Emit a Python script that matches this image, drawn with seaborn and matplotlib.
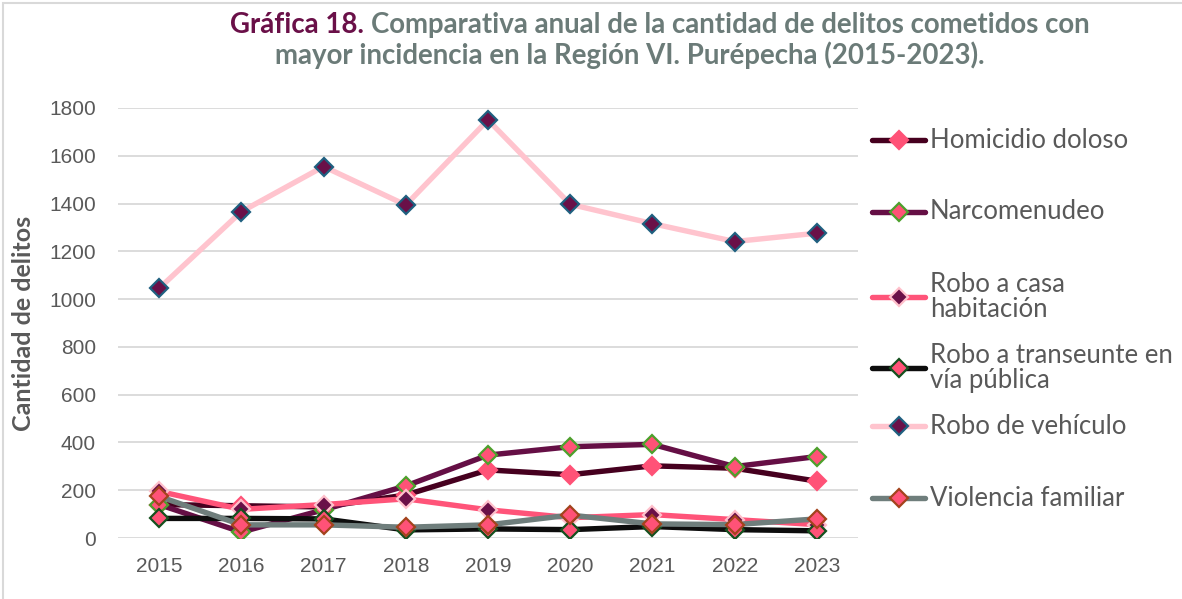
import matplotlib
matplotlib.use("Agg")
import matplotlib.pyplot as plt
from matplotlib.lines import Line2D
from matplotlib.patches import Rectangle
import seaborn as sns
import pandas as pd

years = ["2015", "2016", "2017", "2018", "2019", "2020", "2021", "2022", "2023"]
series_names = ["Homicidio doloso", "Narcomenudeo", "Robo a casa\nhabitación",
                "Robo a transeunte en\nvía pública", "Robo de vehículo", "Violencia familiar"]
homicidio = [140, 135, 130, 180, 285, 265, 302, 292, 238]
narcomenudeo = [140, 25, 118, 218, 347, 382, 392, 299, 341]
robo_casa = [195, 120, 140, 164, 118, 85, 98, 77, 56]
robo_transeunte = [82, 82, 80, 34, 38, 35, 48, 35, 30]
robo_vehiculo = [1045, 1366, 1555, 1394, 1750, 1397, 1316, 1241, 1276]
violencia = [174, 55, 55, 45, 55, 96, 59, 56, 80]
y_ticks = [0, 200, 400, 600, 800, 1000, 1200, 1400, 1600, 1800]

values = [homicidio, narcomenudeo, robo_casa, robo_transeunte, robo_vehiculo, violencia]

# line color, marker face, marker edge
styles = [
    ("#46001F", "#FF5277", "#FF5277"),
    ("#650F45", "#FF5277", "#4CA02C"),
    ("#FF5479", "#6A1048", "#FFC0CB"),
    ("#0D0D0D", "#FF5277", "#14501E"),
    ("#FFC4CE", "#6A1048", "#1F6080"),
    ("#6F7E7C", "#FF5277", "#A3431C"),
]

rows = []
for name, vals in zip(series_names, values):
    for i, v in enumerate(vals):
        rows.append({"serie": name, "x": i, "valor": v})
df = pd.DataFrame(rows)

sns.set_theme(style="white")
plt.rcParams["font.family"] = ["Liberation Sans", "DejaVu Sans"]

fig = plt.figure(figsize=(11.82, 5.99), dpi=100)
ax = fig.add_axes([118 / 1182, 1 - 538 / 599, (858 - 118) / 1182, (538 - 108) / 599])

for name, (lc, mf, me) in zip(series_names, styles):
    sub = df[df["serie"] == name]
    sns.lineplot(data=sub, x="x", y="valor", ax=ax, color=lc, linewidth=3.9,
                 marker="D", markersize=9, markerfacecolor=mf, markeredgecolor=me,
                 markeredgewidth=1.6, legend=False)

ax.set_xlim(-0.5, len(years) - 0.5)
ax.set_ylim(0, 1800)
ax.set_yticks(y_ticks)
ax.set_yticklabels([str(t) for t in y_ticks])
ax.set_xticks(range(len(years)))
ax.set_xticklabels(years)
ax.grid(axis="y", color="#D9D9D9", linewidth=1.3)
ax.set_axisbelow(True)
for s in ax.spines.values():
    s.set_visible(False)
ax.tick_params(axis="both", length=0, labelsize=15, colors="#595959")
ax.tick_params(axis="y", pad=16)
ax.tick_params(axis="x", pad=14)
ax.set_xlabel("")
ax.set_ylabel("Cantidad de delitos", fontsize=18, color="#595959", family=["Lato", "DejaVu Sans"],
              fontweight="bold", labelpad=10)

# Legend (manually placed entries)
leg_y = [140, 212, 297, 368, 426, 498]
for name, (lc, mf, me), yy in zip(series_names, styles, leg_y):
    yf = 1 - yy / 599
    fig.add_artist(Line2D([872 / 1182, 925 / 1182], [yf, yf], color=lc, linewidth=3.9,
                          solid_capstyle="round", transform=fig.transFigure))
    fig.add_artist(Line2D([898.5 / 1182], [yf], marker="D", markersize=9, markerfacecolor=mf,
                          markeredgecolor=me, markeredgewidth=1.6, linestyle="none",
                          transform=fig.transFigure))
    fig.text(930 / 1182, yf, name, fontsize=18.5, color="#595959", va="center", ha="left",
             family=["Lato", "DejaVu Sans"], linespacing=1.0)

# Title
title_font = ["Lato", "DejaVu Sans"]
fs_title = 19.9
fig.canvas.draw()
r = fig.canvas.get_renderer()
a = fig.text(0, 1 - 25 / 599, "Gráfica 18. ", fontsize=fs_title, fontweight="bold", color="#6A1048",
             family=title_font, va="center", ha="left")
b = fig.text(0, 1 - 25 / 599, "Comparativa anual de la cantidad de delitos cometidos con",
             fontsize=fs_title, fontweight="bold", color="#6B7B78", family=title_font, va="center", ha="left")
wa = a.get_window_extent(r).width
wb = b.get_window_extent(r).width
start = (660 - (wa + wb) / 2) / 1182
a.set_x(start)
b.set_x(start + wa / 1182)
fig.text(630 / 1182, 1 - 55 / 599,
         "mayor incidencia en la Región VI. Purépecha (2015-2023).",
         fontsize=fs_title, fontweight="bold", color="#6B7B78", family=title_font, va="center", ha="center")

fig.add_artist(Rectangle((3 / 1182, -0.01), 1.2, 1.0 - 3 / 599 + 0.01, transform=fig.transFigure,
                         fill=False, edgecolor="#D9D9D9", linewidth=1.5))

fig.savefig("out.png", dpi=100, facecolor="white")
